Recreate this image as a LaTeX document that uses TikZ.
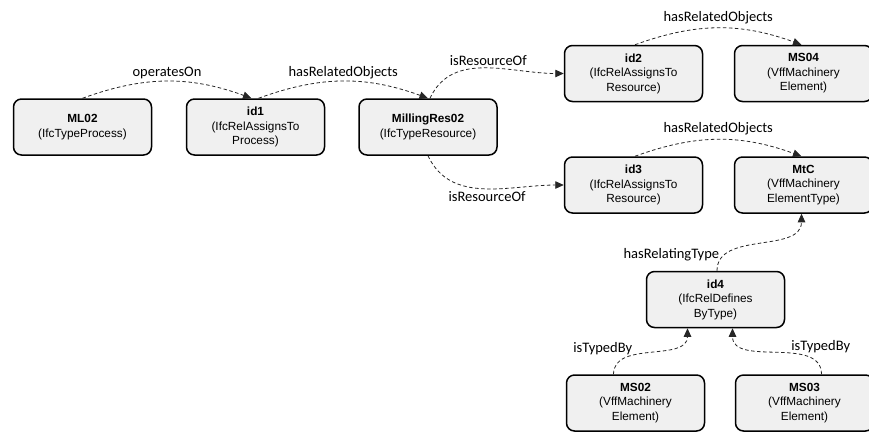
\documentclass[tikz,border=0pt]{standalone}
\usepackage{fontspec}
\setmainfont{Liberation Sans}
\newfontfamily\labelfont{Carlito}
\usetikzlibrary{arrows.meta,positioning}

\tikzset{
  entity/.style={draw=black, line width=1.5pt, rounded corners=8pt,
    fill=black!6, minimum width=138pt, minimum height=56pt,
    inner sep=2pt, align=center, font=\fontsize{11.8}{14.5}\selectfont},
  rel/.style={->, dashed, line width=0.8pt, draw=black!85,
    dash pattern=on 3.5pt off 2.5pt},
  rellabel/.style={font=\labelfont\fontsize{14.5}{16}\selectfont, inner sep=2pt}
}

\begin{document}
\begin{tikzpicture}[x=1pt, y=1pt, >={Triangle[length=8.5pt,width=7.5pt]}]
  \useasboundingbox (0,0) rectangle (869,-432);
  \node[entity] (ml02)                          at (82.5,-127) {\textbf{ML02}\\(IfcTypeProcess)};
  \node[entity] (id1)      [right=33.5pt of ml02] {\textbf{id1}\\(IfcRelAssignsTo\\Process)};
  \node[entity] (millres)  [right=33pt of id1]    {\textbf{MillingRes02}\\(IfcTypeResource)};
  \node[entity] (id2)                           at (633.5,-73.5) {\textbf{id2}\\(IfcRelAssignsTo\\Resource)};
  \node[entity] (ms04)     [right=30.5pt of id2]  {\textbf{MS04}\\(VffMachinery\\Element)};
  \node[entity] (id3)                           at (633.5,-185) {\textbf{id3}\\(IfcRelAssignsTo\\Resource)};
  \node[entity] (mtc)      [right=30.5pt of id3]  {\textbf{MtC}\\(VffMachinery\\ElementType)};
  \node[entity] (id4)                           at (715.5,-299.5) {\textbf{id4}\\(IfcRelDefines\\ByType)};
  \node[entity] (ms02)                          at (635.5,-403) {\textbf{MS02}\\(VffMachinery\\Element)};
  \node[entity] (ms03)     [right=29.5pt of ms02] {\textbf{MS03}\\(VffMachinery\\Element)};

  \draw[rel] (ml02.north) to[out=20,in=160]
    node[rellabel, above] {operatesOn} ([xshift=-4pt]id1.north);
  \draw[rel] ([xshift=3pt]id1.north) to[out=20,in=160]
    node[rellabel, above] {hasRelatedObjects} (millres.north);
  \draw[rel] ([xshift=2pt]millres.north) to[out=65,in=180]
    node[rellabel, above, pos=0.52] {isResourceOf} (id2.west);
  \draw[rel] (millres.south) to[out=-65,in=180]
    node[rellabel, below, pos=0.52] {isResourceOf} (id3.west);
  \draw[rel] ([xshift=1.5pt]id2.north) to[out=20,in=160]
    node[rellabel, above, yshift=2pt] {hasRelatedObjects} ([xshift=-2pt]ms04.north);
  \draw[rel] ([xshift=1.5pt]id3.north) to[out=20,in=160]
    node[rellabel, above, yshift=2pt] {hasRelatedObjects} ([xshift=-2pt]mtc.north);
  \draw[rel] ([xshift=1.5pt]id4.north) to[out=90,in=-90]
    node[rellabel, left, pos=0.14, yshift=3pt] {hasRelatingType} ([xshift=-2pt]mtc.south);
  \draw[rel] ([xshift=-22pt]ms02.north) to[out=90,in=-90]
    node[rellabel, left=16pt, pos=0.5, yshift=3pt] {isTypedBy} ([xshift=-28pt]id4.south);
  \draw[rel] ([xshift=17pt]ms03.north) to[out=90,in=-90]
    node[rellabel, right=12pt, pos=0.5, yshift=5pt] {isTypedBy} ([xshift=17pt]id4.south);
\end{tikzpicture}
\end{document}
